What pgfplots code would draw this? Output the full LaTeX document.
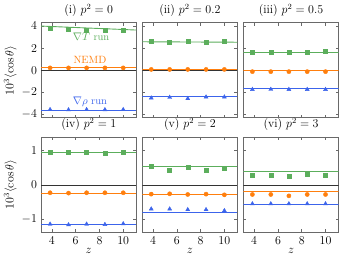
\documentclass[border=0pt,12pt]{standalone}
\usepackage{pgfplots}
\pgfplotsset{compat=1.18}
\usepgfplotslibrary{groupplots}
\definecolor{cg}{RGB}{92,174,92}
\definecolor{co}{RGB}{255,127,14}
\definecolor{cb}{RGB}{60,100,235}
\definecolor{fr}{RGB}{105,105,105}
\pgfplotsset{
  gl/.style={cg, line width=0.9pt, no marks},
  ol/.style={co, line width=0.9pt, no marks},
  bl/.style={cb, line width=0.9pt, no marks},
  gm/.style={cg, only marks, mark=square*, mark size=2.0pt},
  om/.style={co, only marks, mark=*, mark size=2.1pt},
  bm/.style={cb, only marks, mark=triangle*, mark size=2.3pt},
  zl/.style={black!80, line width=0.6pt, no marks},
  toprow/.style={ymin=-4.3, ymax=4.3, ytick={-4,-2,0,2,4}},
  botrow/.style={ymin=-1.37, ymax=1.39, ytick={-1,0,1}, xlabel={$z$}},
}
\begin{document}
\begin{tikzpicture}
\begin{groupplot}[
  group style={group size=3 by 2, horizontal sep=6pt, vertical sep=19pt,
    xticklabels at=edge bottom, yticklabels at=edge left},
  scale only axis, width=95pt, height=95pt,
  xmin=3.1, xmax=11.1, xtick={4,6,8,10},
  axis line style={fr, line width=0.8pt}, tick style={fr, line width=0.5pt},
  major tick length=3pt,
  title style={yshift=-4pt},
  xlabel style={yshift=4pt},
  ylabel style={yshift=-3pt},
]
% (i)
\nextgroupplot[toprow, title={(i) $p^2 = 0$}, ylabel={$10^3\langle\cos\theta\rangle$}]
\addplot[zl] coordinates {(3.1,0) (11.1,0)};
\addplot[gl] coordinates {(3.1,4.0) (11.1,3.64)};
\addplot[gm] coordinates {(3.85,3.80) (5.4,3.72) (6.92,3.66) (8.46,3.63) (10,3.66)};
\addplot[ol] coordinates {(3.1,0.22) (11.1,0.22)};
\addplot[om] coordinates {(3.85,0.22) (5.4,0.22) (6.92,0.22) (8.46,0.22) (10,0.22)};
\addplot[bl] coordinates {(3.1,-3.6) (11.1,-3.6)};
\addplot[bm] coordinates {(3.85,-3.55) (5.4,-3.57) (6.92,-3.55) (8.46,-3.56) (10,-3.55)};
\node[cg, font=\fontsize{10.5}{12}\selectfont] at (axis cs:7.3,3.05) {$\nabla T$ run};
\node[co, font=\fontsize{10.5}{12}\selectfont] at (axis cs:7.2,0.9) {NEMD};
\node[cb, font=\fontsize{10.5}{12}\selectfont] at (axis cs:7.2,-2.86) {$\nabla \rho$ run};
% (ii)
\nextgroupplot[toprow, title={(ii) $p^2 = 0.2$}]
\addplot[zl] coordinates {(3.1,0) (11.1,0)};
\addplot[gl] coordinates {(3.1,2.58) (11.1,2.54)};
\addplot[gm] coordinates {(3.85,2.66) (5.4,2.57) (6.92,2.63) (8.46,2.57) (10,2.63)};
\addplot[ol] coordinates {(3.1,0.08) (11.1,0.08)};
\addplot[om] coordinates {(3.85,0.08) (5.4,0.08) (6.92,0.08) (8.46,0.08) (10,0.08)};
\addplot[bl] coordinates {(3.1,-2.35) (11.1,-2.35)};
\addplot[bm] coordinates {(3.85,-2.50) (5.4,-2.44) (6.92,-2.56) (8.46,-2.41) (10,-2.41)};
% (iii)
\nextgroupplot[toprow, title={(iii) $p^2 = 0.5$}]
\addplot[zl] coordinates {(3.1,0) (11.1,0)};
\addplot[gl] coordinates {(3.1,1.64) (11.1,1.64)};
\addplot[gm] coordinates {(3.85,1.65) (5.4,1.65) (6.92,1.68) (8.46,1.62) (10,1.71)};
\addplot[ol] coordinates {(3.1,-0.05) (11.1,-0.05)};
\addplot[om] coordinates {(3.85,-0.12) (5.4,-0.12) (6.92,-0.12) (8.46,-0.12) (10,-0.12)};
\addplot[bl] coordinates {(3.1,-1.64) (11.1,-1.64)};
\addplot[bm] coordinates {(3.85,-1.73) (5.4,-1.72) (6.92,-1.73) (8.46,-1.73) (10,-1.73)};
% (iv)
\nextgroupplot[botrow, title={(iv) $p^2 = 1$}, ylabel={$10^3\langle\cos\theta\rangle$}]
\addplot[zl] coordinates {(3.1,0) (11.1,0)};
\addplot[gl] coordinates {(3.1,0.93) (11.1,0.93)};
\addplot[gm] coordinates {(3.85,0.95) (5.4,0.94) (6.92,0.94) (8.46,0.92) (10,0.95)};
\addplot[ol] coordinates {(3.1,-0.25) (11.1,-0.25)};
\addplot[om] coordinates {(3.85,-0.23) (5.4,-0.24) (6.92,-0.23) (8.46,-0.23) (10,-0.23)};
\addplot[bl] coordinates {(3.1,-1.16) (11.1,-1.16)};
\addplot[bm] coordinates {(3.85,-1.14) (5.4,-1.16) (6.92,-1.14) (8.46,-1.15) (10,-1.13)};
% (v)
\nextgroupplot[botrow, title={(v) $p^2 = 2$}]
\addplot[zl] coordinates {(3.1,0) (11.1,0)};
\addplot[gl] coordinates {(3.1,0.54) (11.1,0.54)};
\addplot[gm] coordinates {(3.85,0.53) (5.4,0.42) (6.92,0.52) (8.46,0.43) (10,0.49)};
\addplot[ol] coordinates {(3.1,-0.29) (11.1,-0.29)};
\addplot[om] coordinates {(3.85,-0.27) (5.4,-0.26) (6.92,-0.28) (8.46,-0.27) (10,-0.29)};
\addplot[bl] coordinates {(3.1,-0.80) (11.1,-0.80)};
\addplot[bm] coordinates {(3.85,-0.70) (5.4,-0.70) (6.92,-0.72) (8.46,-0.72) (10,-0.75)};
% (vi)
\nextgroupplot[botrow, title={(vi) $p^2 = 3$}]
\addplot[zl] coordinates {(3.1,0) (11.1,0)};
\addplot[gl] coordinates {(3.1,0.38) (11.1,0.38)};
\addplot[gm] coordinates {(3.85,0.28) (5.4,0.29) (6.92,0.26) (8.46,0.31) (10,0.27)};
\addplot[ol] coordinates {(3.1,-0.19) (11.1,-0.19)};
\addplot[om] coordinates {(3.85,-0.28) (5.4,-0.28) (6.92,-0.32) (8.46,-0.28) (10,-0.28)};
\addplot[bl] coordinates {(3.1,-0.56) (11.1,-0.56)};
\addplot[bm] coordinates {(3.85,-0.55) (5.4,-0.55) (6.92,-0.55) (8.46,-0.55) (10,-0.55)};
\end{groupplot}
\end{tikzpicture}
\end{document}
